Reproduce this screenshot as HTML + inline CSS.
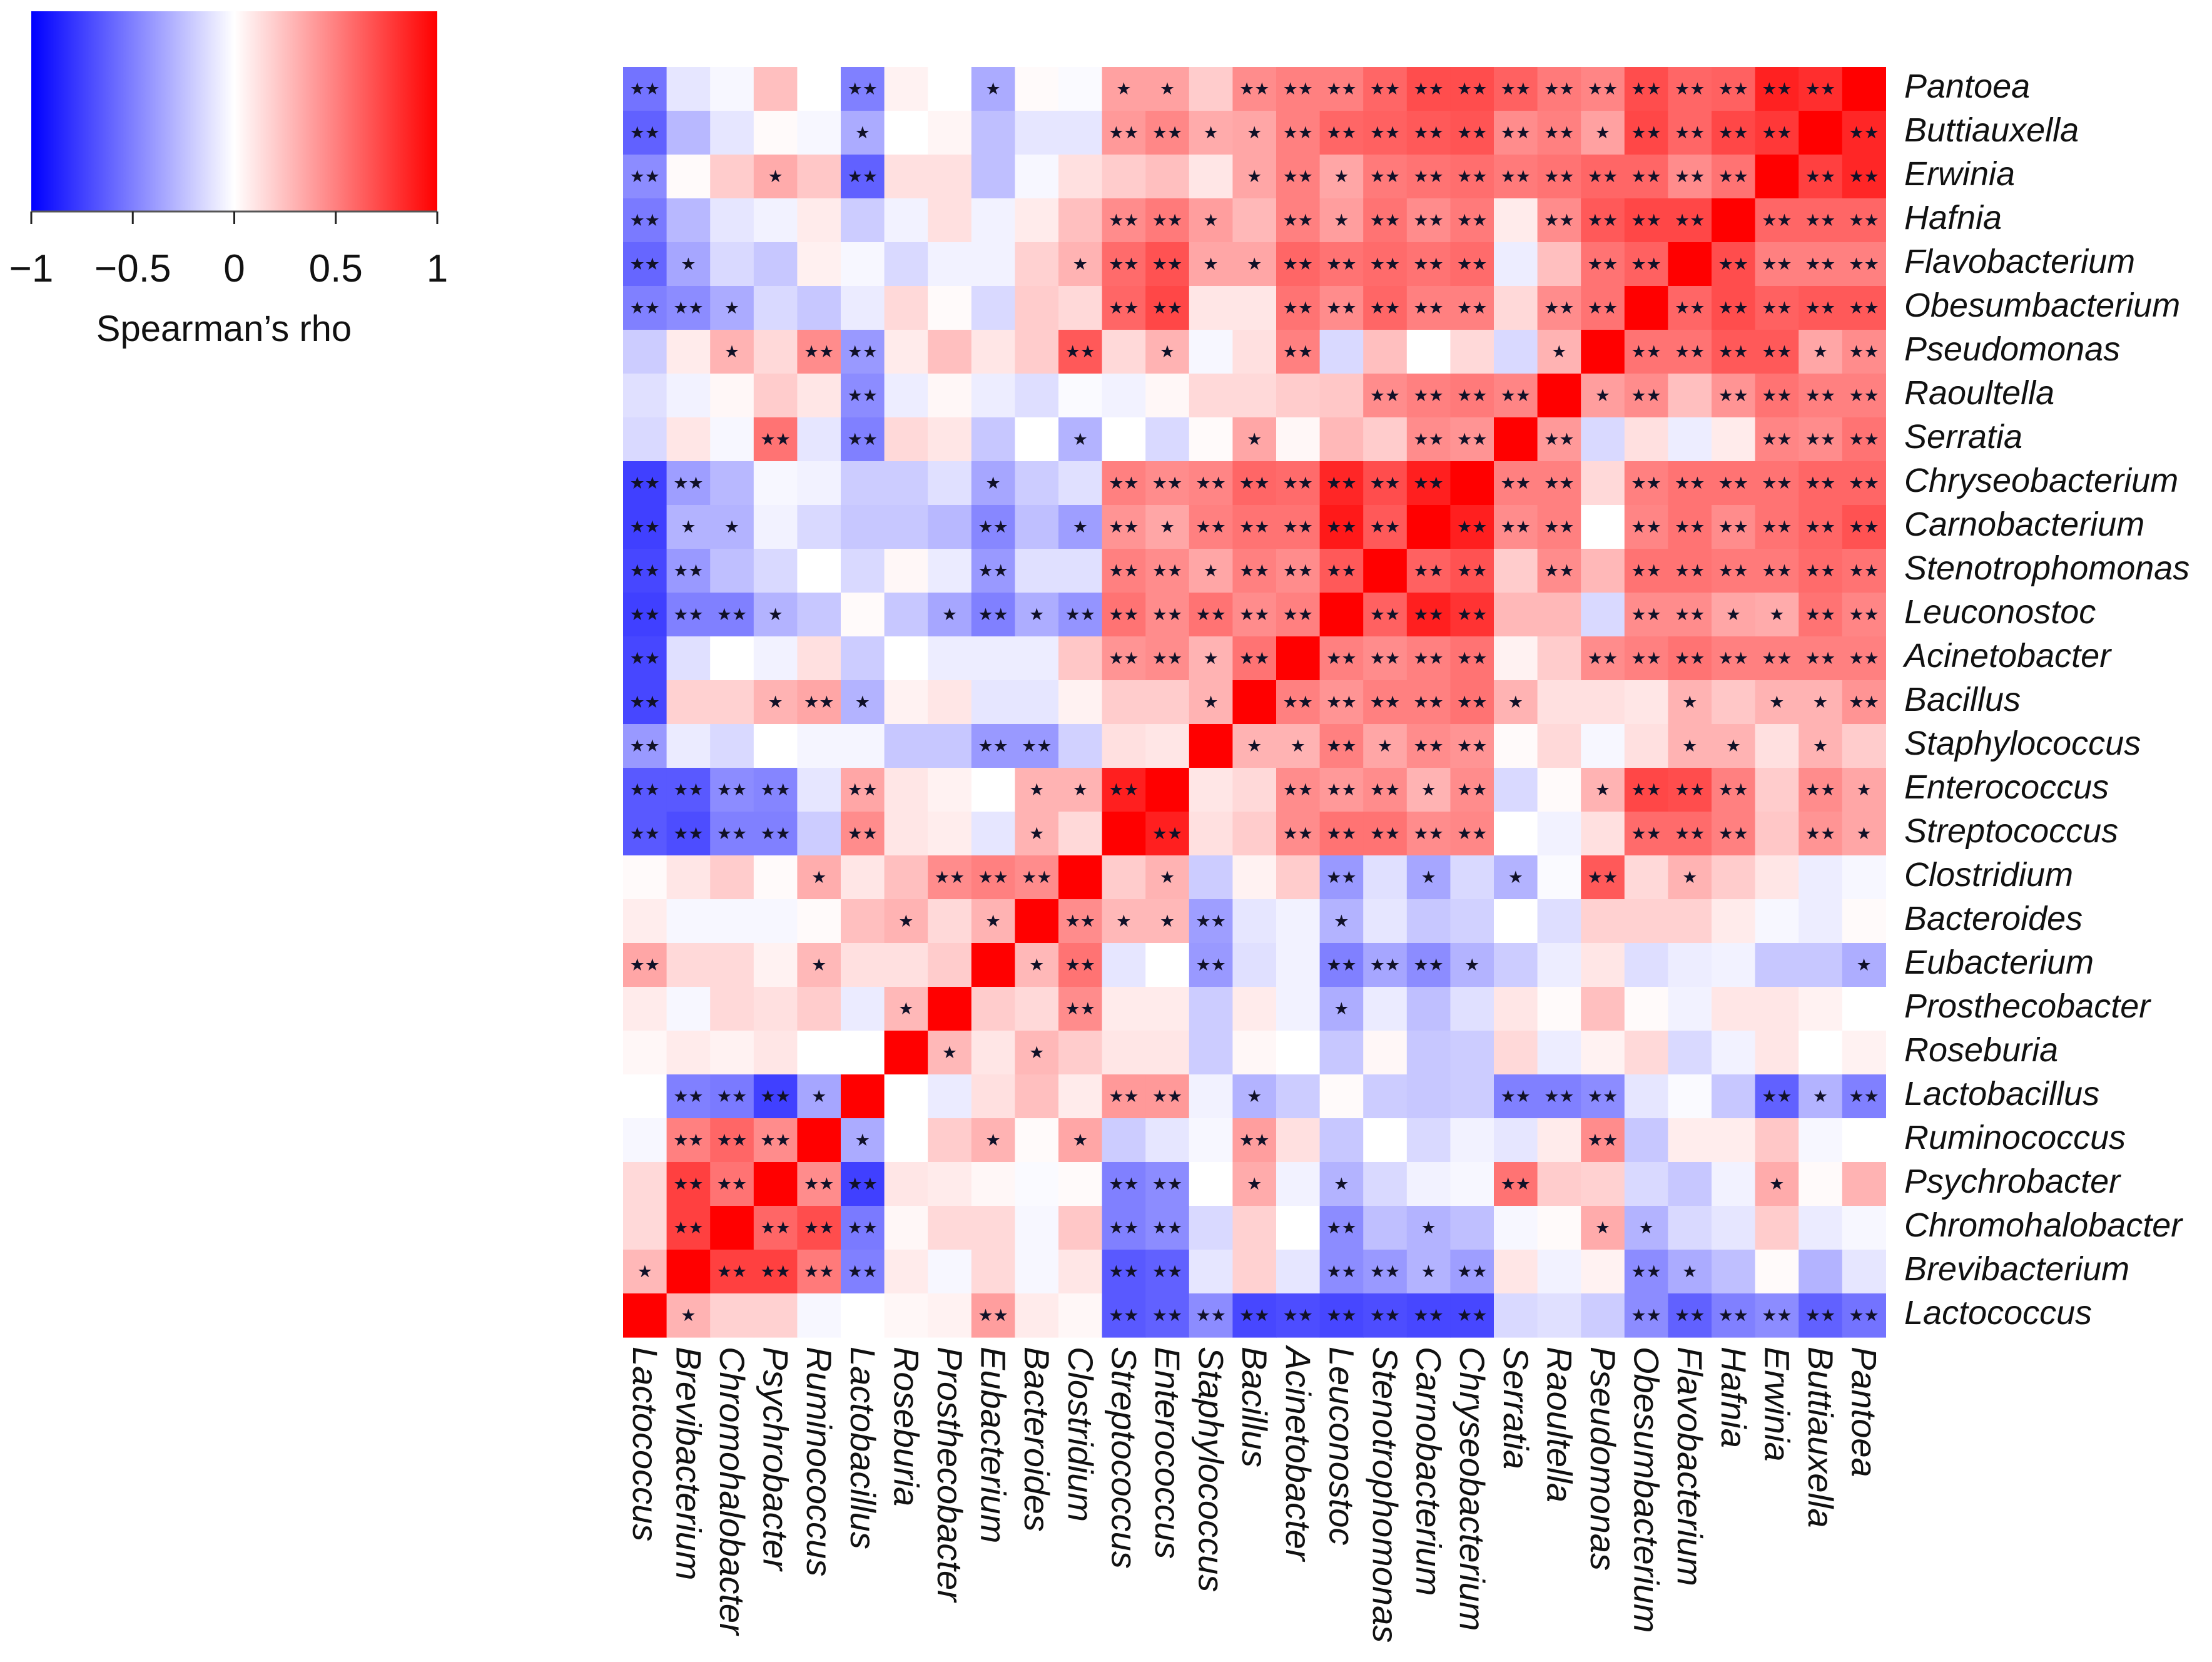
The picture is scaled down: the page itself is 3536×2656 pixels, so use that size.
<!DOCTYPE html>
<html><head><meta charset="utf-8"><style>
html,body{margin:0;padding:0;background:#fff}
svg{display:block}
</style></head><body>
<svg id="chart" width="3536" height="2656" viewBox="0 0 3536 2656" xmlns="http://www.w3.org/2000/svg">
<defs><linearGradient id="cbar" x1="0" x2="1" y1="0" y2="0"><stop offset="0" stop-color="#0000ff"/><stop offset="0.5" stop-color="#ffffff"/><stop offset="1" stop-color="#ff0000"/></linearGradient></defs>
<g id="legend"></g>
<g id="cells"></g>
<g id="stars"></g>
<g id="rowlabels"></g>
<g id="collabels"></g>
</svg>
<script>
const rowNames = ["Pantoea","Buttiauxella","Erwinia","Hafnia","Flavobacterium","Obesumbacterium","Pseudomonas","Raoultella","Serratia","Chryseobacterium","Carnobacterium","Stenotrophomonas","Leuconostoc","Acinetobacter","Bacillus","Staphylococcus","Enterococcus","Streptococcus","Clostridium","Bacteroides","Eubacterium","Prosthecobacter","Roseburia","Lactobacillus","Ruminococcus","Psychrobacter","Chromohalobacter","Brevibacterium","Lactococcus"];
const colNames = ["Lactococcus","Brevibacterium","Chromohalobacter","Psychrobacter","Ruminococcus","Lactobacillus","Roseburia","Prosthecobacter","Eubacterium","Bacteroides","Clostridium","Streptococcus","Enterococcus","Staphylococcus","Bacillus","Acinetobacter","Leuconostoc","Stenotrophomonas","Carnobacterium","Chryseobacterium","Serratia","Raoultella","Pseudomonas","Obesumbacterium","Flavobacterium","Hafnia","Erwinia","Buttiauxella","Pantoea"];
const rho = [
[-0.55,-0.1,-0.03,0.25,0,-0.5,0.05,0,-0.33,0.02,-0.02,0.37,0.37,0.2,0.45,0.5,0.5,0.6,0.7,0.7,0.62,0.52,0.48,0.7,0.6,0.62,0.87,0.82,1],
[-0.62,-0.28,-0.1,0.02,-0.03,-0.33,0,0.04,-0.25,-0.1,-0.1,0.4,0.47,0.33,0.35,0.5,0.6,0.62,0.65,0.67,0.45,0.5,0.37,0.72,0.6,0.72,0.78,1,0.85],
[-0.45,0.02,0.2,0.33,0.22,-0.62,0.12,0.12,-0.25,-0.03,0.12,0.2,0.25,0.1,0.35,0.5,0.35,0.52,0.55,0.57,0.52,0.55,0.6,0.6,0.45,0.55,1,0.75,0.85],
[-0.52,-0.28,-0.1,-0.05,0.08,-0.2,-0.05,0.12,-0.05,0.08,0.25,0.45,0.52,0.38,0.28,0.5,0.38,0.55,0.45,0.52,0.08,0.45,0.65,0.72,0.72,1,0.6,0.6,0.6],
[-0.6,-0.35,-0.15,-0.22,0.06,-0.03,-0.15,-0.05,-0.05,0.18,0.3,0.58,0.68,0.35,0.35,0.6,0.55,0.58,0.55,0.58,-0.07,0.25,0.55,0.62,1,0.7,0.5,0.5,0.5],
[-0.5,-0.45,-0.33,-0.15,-0.22,-0.08,0.15,0.02,-0.15,0.2,0.15,0.6,0.72,0.1,0.1,0.55,0.45,0.6,0.5,0.5,0.15,0.45,0.55,1,0.6,0.7,0.62,0.65,0.65],
[-0.2,0.08,0.3,0.15,0.45,-0.4,0.08,0.25,0.1,0.2,0.65,0.15,0.3,-0.03,0.12,0.5,-0.15,0.25,0,0.15,-0.15,0.3,1,0.55,0.55,0.65,0.65,0.35,0.45],
[-0.12,-0.05,0.03,0.2,0.1,-0.45,-0.07,0.03,-0.07,-0.13,-0.02,-0.05,0.03,0.15,0.15,0.2,0.22,0.45,0.5,0.52,0.48,1,0.38,0.45,0.25,0.42,0.55,0.5,0.5],
[-0.15,0.1,-0.03,0.55,-0.1,-0.5,0.15,0.1,-0.22,0,-0.3,0,-0.15,0.02,0.35,0.03,0.28,0.2,0.45,0.42,1,0.4,-0.15,0.12,-0.07,0.08,0.48,0.45,0.55],
[-0.75,-0.38,-0.28,-0.03,-0.05,-0.2,-0.2,-0.12,-0.35,-0.2,-0.12,0.5,0.45,0.48,0.6,0.58,0.85,0.7,0.88,1,0.5,0.5,0.15,0.5,0.55,0.55,0.55,0.6,0.6],
[-0.75,-0.3,-0.3,-0.05,-0.15,-0.22,-0.22,-0.28,-0.47,-0.25,-0.38,0.42,0.35,0.5,0.55,0.55,0.9,0.65,1,0.88,0.45,0.5,0,0.48,0.55,0.45,0.55,0.6,0.68],
[-0.72,-0.4,-0.25,-0.15,0,-0.15,0.03,-0.08,-0.4,-0.12,-0.12,0.5,0.45,0.35,0.5,0.45,0.65,1,0.62,0.68,0.2,0.45,0.28,0.55,0.55,0.52,0.52,0.58,0.55],
[-0.75,-0.5,-0.5,-0.3,-0.22,0.02,-0.22,-0.35,-0.5,-0.32,-0.42,0.55,0.45,0.55,0.45,0.5,1,0.62,0.88,0.8,0.28,0.28,-0.15,0.45,0.45,0.35,0.33,0.55,0.48],
[-0.72,-0.12,0,-0.05,0.12,-0.2,0,-0.07,-0.07,-0.07,0.22,0.42,0.45,0.3,0.55,1,0.5,0.45,0.5,0.55,0.05,0.2,0.45,0.5,0.55,0.5,0.5,0.5,0.5],
[-0.72,0.18,0.18,0.3,0.35,-0.3,0.05,0.1,-0.1,-0.1,0.05,0.2,0.2,0.3,1,0.5,0.42,0.5,0.5,0.55,0.3,0.12,0.12,0.1,0.3,0.22,0.3,0.3,0.42],
[-0.4,-0.08,-0.15,0,-0.04,-0.04,-0.22,-0.22,-0.4,-0.4,-0.18,0.12,0.1,1,0.3,0.3,0.5,0.35,0.45,0.42,0.02,0.15,-0.03,0.12,0.3,0.3,0.12,0.3,0.2],
[-0.65,-0.65,-0.45,-0.48,-0.1,0.35,0.1,0.05,0,0.3,0.3,0.88,1,0.1,0.15,0.45,0.4,0.45,0.3,0.45,-0.15,0.02,0.3,0.72,0.7,0.5,0.2,0.45,0.35],
[-0.65,-0.7,-0.5,-0.5,-0.2,0.45,0.1,0.07,-0.1,0.3,0.15,1,0.88,0.12,0.2,0.45,0.55,0.55,0.45,0.47,0,-0.05,0.12,0.58,0.58,0.5,0.22,0.42,0.35],
[0.02,0.1,0.2,0.02,0.32,0.1,0.25,0.45,0.5,0.45,1,0.2,0.3,-0.2,0.05,0.2,-0.4,-0.12,-0.35,-0.15,-0.3,-0.02,0.65,0.15,0.3,0.2,0.1,-0.07,-0.03],
[0.07,-0.03,-0.03,-0.03,0.02,0.25,0.3,0.15,0.3,1,0.45,0.28,0.28,-0.38,-0.1,-0.05,-0.3,-0.1,-0.22,-0.18,0,-0.13,0.18,0.18,0.18,0.08,-0.03,-0.07,0.02],
[0.35,0.15,0.15,0.05,0.28,0.12,0.12,0.2,1,0.28,0.55,-0.1,0,-0.4,-0.12,-0.05,-0.5,-0.35,-0.45,-0.3,-0.2,-0.07,0.1,-0.13,-0.07,-0.05,-0.22,-0.22,-0.32],
[0.08,-0.03,0.15,0.12,0.2,-0.08,0.28,1,0.2,0.15,0.45,0.08,0.08,-0.2,0.08,-0.05,-0.32,-0.08,-0.25,-0.12,0.1,0.02,0.25,0.02,-0.05,0.1,0.1,0.05,0],
[0.03,0.08,0.05,0.1,0,0,1,0.28,0.1,0.28,0.2,0.1,0.1,-0.2,0.03,0,-0.22,0.03,-0.22,-0.2,0.15,-0.07,0.05,0.15,-0.15,-0.05,0.1,0,0.05],
[0,-0.5,-0.52,-0.75,-0.35,1,0,-0.08,0.12,0.25,0.08,0.4,0.4,-0.05,-0.3,-0.2,0.02,-0.2,-0.22,-0.2,-0.5,-0.5,-0.45,-0.1,-0.02,-0.22,-0.62,-0.3,-0.5],
[-0.03,0.5,0.6,0.45,1,-0.33,0,0.2,0.3,0.02,0.35,-0.2,-0.1,-0.03,0.38,0.12,-0.22,0,-0.15,-0.05,-0.1,0.08,0.45,-0.22,0.07,0.07,0.22,-0.03,0],
[0.15,0.75,0.55,1,0.45,-0.75,0.1,0.08,0.03,-0.02,0.02,-0.5,-0.45,0,0.33,-0.05,-0.3,-0.15,-0.05,-0.03,0.55,0.2,0.18,-0.15,-0.22,-0.05,0.33,0.02,0.3],
[0.15,0.75,1,0.6,0.7,-0.52,0.03,0.15,0.15,-0.03,0.22,-0.5,-0.45,-0.15,0.18,0,-0.45,-0.25,-0.3,-0.25,-0.03,0.02,0.33,-0.3,-0.15,-0.1,0.2,-0.08,-0.03],
[0.28,1,0.75,0.75,0.52,-0.5,0.08,-0.03,0.15,-0.03,0.1,-0.65,-0.62,-0.1,0.18,-0.1,-0.45,-0.4,-0.3,-0.38,0.1,-0.05,0.05,-0.45,-0.33,-0.25,0.02,-0.3,-0.1],
[1,0.3,0.18,0.18,-0.03,0,0.03,0.05,0.38,0.08,0.03,-0.65,-0.62,-0.45,-0.72,-0.7,-0.72,-0.7,-0.72,-0.72,-0.15,-0.12,-0.2,-0.45,-0.62,-0.5,-0.45,-0.62,-0.55]
];
const sig = [
"20000200100110222222222222220",
"20000100000221122222221222202",
"20010200000000121222222222022",
"20000000000221021222022220222",
"21000000001221122222002202222",
"22100000000220022222022022222",
"00102200002010020000010222212",
"00000200000000000222201202222",
"00020200001000100022020000222",
"22000000100222222220220222222",
"21100000201212222202220222222",
"22000000200221222022020222222",
"22210001212222220222000221122",
"20000000000221202222002222222",
"20012100000001022222100010112",
"20000000220000112122000011010",
"22220200011200022212001222021",
"22220200010020022222000222021",
"00001002220010002010102010000",
"00000010102112001000000000000",
"20001000012002002221000000001",
"00000010002000001000000000000",
"00000001010000000000000000000",
"02221000000220100000222000212",
"02220100101000200000002000000",
"02202200000220101000200000100",
"02022200000220002010001100000",
"10222200000220002212000210000",
"01000000200222222222000222222"
];
const legendTicks = [-1,-0.5,0,0.5,1];
const legendTickLabels = ["\u22121","\u22120.5","0","0.5","1"];

const NS="http://www.w3.org/2000/svg";
const X0=996, Y0=107, CW=69.6, RH=70.0;
const xPos = c => X0 + c*CW;
const yPos = r => Y0 + r*RH;
function color(v){
  v=Math.max(-1,Math.min(1,v));
  let r,g,b;
  if(v<0){const t=1+v; r=Math.round(255*t); g=r; b=255;}
  else {const t=1-v; r=255; g=Math.round(255*t); b=g;}
  return `rgb(${r},${g},${b})`;
}
function mk(tag,attrs,parent){const e=document.createElementNS(NS,tag);for(const k in attrs)e.setAttribute(k,attrs[k]);parent.appendChild(e);return e;}

const cells=document.getElementById('cells');
const stars=document.getElementById('stars');
rho.forEach((row,r)=>{
  row.forEach((v,c)=>{
    const rc=mk('rect',{x:xPos(c).toFixed(2),y:yPos(r).toFixed(2),width:(CW+0.6).toFixed(2),height:(RH+0.6).toFixed(2),fill:color(v)},cells);
    
    
    const s=+sig[r][c];
    if(s>0){
      const t=mk('text',{x:(xPos(c)+CW/2).toFixed(2),y:(yPos(r)+RH/2+9).toFixed(2),'text-anchor':'middle','font-family':'DejaVu Sans, sans-serif','font-size':'27',fill:'#111128'},stars);
      t.textContent=s===2?'★★':'★';
      
      
    }
  });
});
const rl=document.getElementById('rowlabels');
rowNames.forEach((n,r)=>{
  const t=mk('text',{x:3044,y:(yPos(r)+RH/2+14).toFixed(2),'font-family':'Liberation Sans, sans-serif','font-style':'italic','font-size':'54',fill:'#111'},rl);
  t.textContent=n;
  
  
});
const cl=document.getElementById('collabels');
colNames.forEach((n,c)=>{
  const cx=xPos(c)+CW/2, y=2152;
  const t=mk('text',{x:(cx).toFixed(2),y:y,'font-family':'Liberation Sans, sans-serif','font-style':'italic','font-size':'56',fill:'#111'},cl);
  t.setAttribute('transform',`rotate(90 ${cx.toFixed(2)} ${y}) translate(0 19)`);
  t.textContent=n;
  
  
});
// legend
const lg=document.getElementById('legend');
const LX0=50, LX1=699, LY0=18, LY1=338;
const lx = v => LX0 + (v+1)/2*(LX1-LX0);
const bar=mk('rect',{x:LX0,y:LY0,width:LX1-LX0,height:LY1-LY0,fill:'url(#cbar)'},lg);


mk('line',{x1:LX0,x2:LX1,y1:LY1,y2:LY1,stroke:'#555','stroke-width':3},lg);
legendTicks.forEach((v,i)=>{
  const tk=mk('line',{x1:lx(v),x2:lx(v),y1:LY1,y2:LY1+20,stroke:'#222','stroke-width':3},lg);
  
  
  const t=mk('text',{x:lx(v),y:450,'text-anchor':'middle','font-family':'Liberation Sans, sans-serif','font-size':'62',fill:'#111'},lg);
  t.textContent=legendTickLabels[i];
  
  
});
const lt=mk('text',{x:358,y:545,'text-anchor':'middle','font-family':'Liberation Sans, sans-serif','font-size':'58',fill:'#111'},lg);
lt.textContent="Spearman\u2019s rho";


</script>
</body></html>
